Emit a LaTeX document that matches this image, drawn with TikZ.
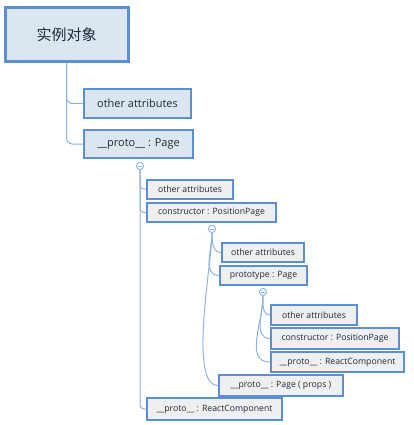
\documentclass[tikz,border=0pt]{standalone}
\usepackage{fontspec}
\setmainfont{Open Sans}
\newfontfamily\cjk{Noto Sans CJK SC}
\definecolor{rootfill}{HTML}{DCE6F1}
\definecolor{boxline}{HTML}{5B8FD3}
\definecolor{grayfill}{HTML}{EFEFEF}
\definecolor{connc}{HTML}{8FB3E0}
\definecolor{txt}{HTML}{1E2A3A}
\tikzset{
  base/.style={draw=boxline, text=txt, inner sep=0pt, align=center},
  rootbox/.style={base, fill=rootfill, line width=3pt, font=\cjk\fontsize{15}{18}\selectfont},
  lonebox/.style={base, fill=rootfill, line width=2pt, font=\fontsize{11}{13}\selectfont},
  subbox/.style={base, fill=grayfill, line width=2pt, font=\fontsize{8.7}{10}\selectfont},
  conn/.style={draw=connc, line width=1pt},
  fold/.style={circle, draw=connc, fill=white, line width=0.8pt, minimum size=7pt, inner sep=0pt,
    path picture={\draw[connc, line width=0.7pt] ([xshift=-2pt]path picture bounding box.center) -- ([xshift=2pt]path picture bounding box.center);}}
}
\begin{document}
\begin{tikzpicture}[x=1pt,y=-1pt]
\useasboundingbox (0,0) rectangle (414,425);
% nodes
\node[rootbox, minimum width=123pt, minimum height=54pt] (root) at (66.5,35) {实例对象};
\node[lonebox, minimum width=107pt, minimum height=29pt] (la) at (137.5,103.5) {other attributes};
\node[lonebox, minimum width=109pt, minimum height=28pt] (lb) at (138.5,144) {\_\_proto\_\_ : Page};
\node[fold] (c1) at (140,166) {};
\node[subbox, minimum width=86pt, minimum height=19pt] (ma) at (190,189) {other attributes};
\node[subbox, minimum width=129pt, minimum height=19pt] (mb) at (211.5,212.5) {constructor : PositionPage};
\node[fold] (c2) at (212,229) {};
\node[subbox, minimum width=82pt, minimum height=19pt] (na) at (263,252.5) {other attributes};
\node[subbox, minimum width=87pt, minimum height=19pt] (nb) at (263.5,275.5) {prototype : Page};
\node[fold] (c3) at (263,292) {};
\node[subbox, minimum width=86pt, minimum height=20pt] (pa) at (314,315) {other attributes};
\node[subbox, minimum width=128pt, minimum height=21pt] (pb) at (335,338.5) {constructor : PositionPage};
\node[subbox, minimum width=133pt, minimum height=20pt] (pc) at (337.5,362) {\_\_proto\_\_ : ReactComponent};
\node[subbox, minimum width=124pt, minimum height=21pt] (nc) at (281,385.5) {\_\_proto\_\_ : Page ( props )};
\node[subbox, minimum width=135pt, minimum height=22pt] (mc) at (214.5,409) {\_\_proto\_\_ : ReactComponent};
% connectors
\begin{scope}[on background layer/.try]
\end{scope}
\draw[conn, rounded corners=6pt] (root.south) |- (la.west);
\draw[conn, rounded corners=6pt] (root.south) |- (lb.west);
\draw[conn, rounded corners=4pt] (c1.south) |- (ma.west);
\draw[conn, rounded corners=4pt] (c1.south) |- (mb.west);
\draw[conn, rounded corners=4pt] (c1.south) |- (mc.west);
\draw[conn] (c2.south) to[out=-90,in=180] (na.west);
\draw[conn] (c2.south) to[out=-90,in=180] (nb.west);
\draw[conn] (c2.south) to[out=-90,in=180,looseness=0.5] (nc.west);
\draw[conn] (c3.south) to[out=-90,in=180] (pa.west);
\draw[conn] (c3.south) to[out=-90,in=180] (pb.west);
\draw[conn] (c3.south) to[out=-90,in=180] (pc.west);
% redraw fold circles on top
\node[fold] at (c1) {};
\node[fold] at (c2) {};
\node[fold] at (c3) {};
\end{tikzpicture}
\end{document}
